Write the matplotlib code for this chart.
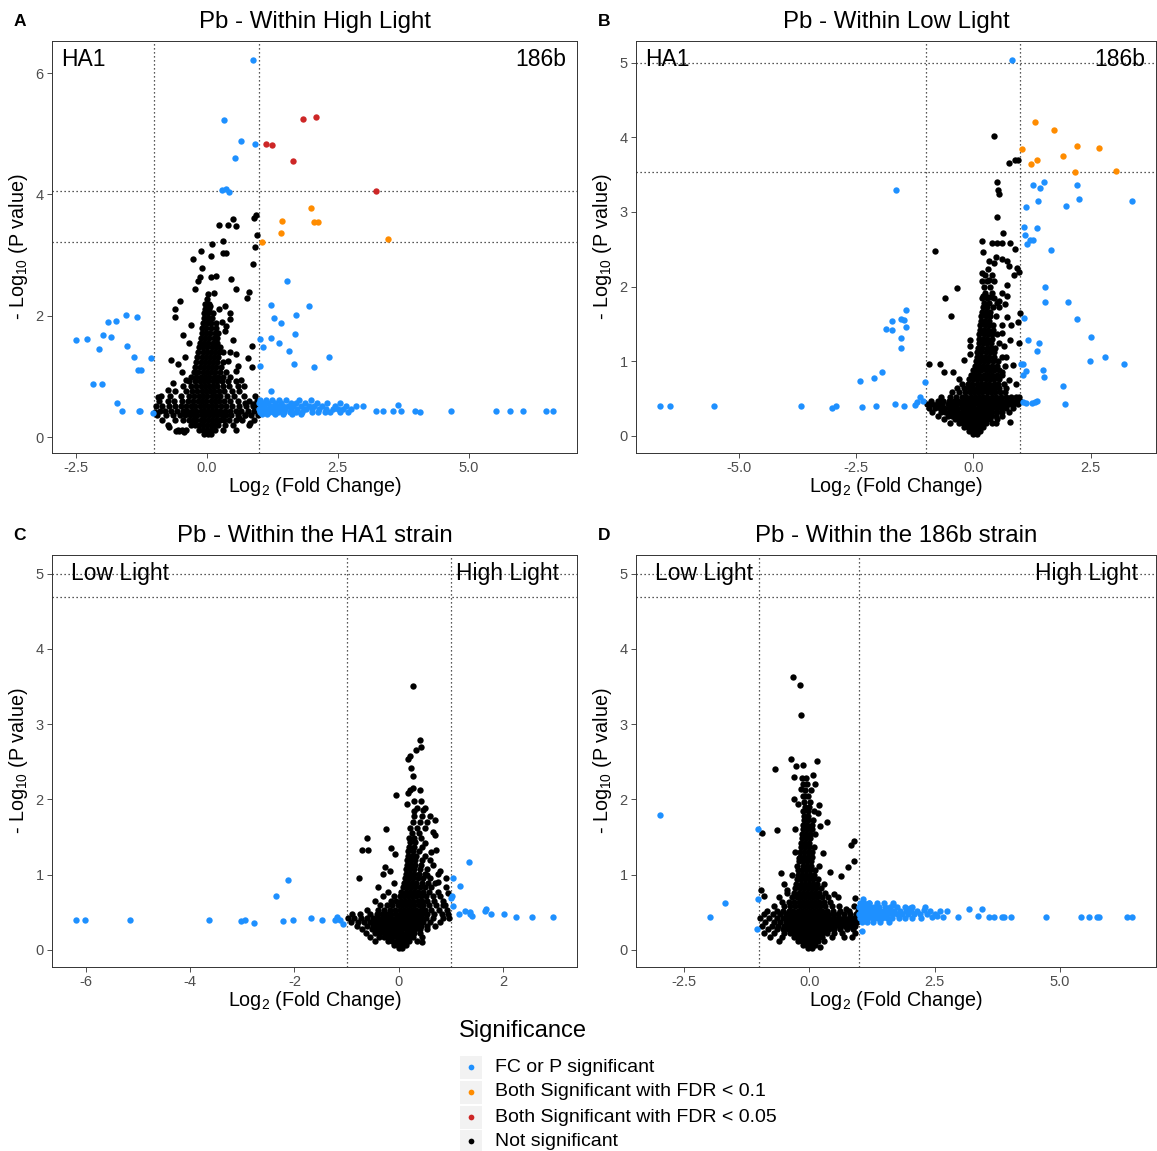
import matplotlib
matplotlib.use('Agg')
import matplotlib.pyplot as plt
from matplotlib.patches import Rectangle

plt.rcParams['font.family'] = ['Liberation Sans', 'DejaVu Sans']
plt.rcParams['mathtext.fontset'] = 'custom'
plt.rcParams['mathtext.rm'] = 'Liberation Sans'
plt.rcParams['mathtext.it'] = 'Liberation Sans:italic'
plt.rcParams['mathtext.bf'] = 'Liberation Sans:bold'

# ---------------------------------------------------------------- data
CATEGORIES = ['FC or P significant', 'Both Significant with FDR < 0.1',
              'Both Significant with FDR < 0.05', 'Not significant']
COLORS = ['#1E90FF', '#FF8C00', '#CD2626', '#000000']

TITLES = ['Pb - Within High Light', 'Pb - Within Low Light',
          'Pb - Within the HA1 strain', 'Pb - Within the 186b strain']
LETTERS = ['A', 'B', 'C', 'D']
CORNER_LABELS = [('HA1', '186b'), ('HA1', '186b'),
                 ('Low Light', 'High Light'), ('Low Light', 'High Light')]
XTICKS = [[-2.5, 0.0, 2.5, 5.0], [-5.0, -2.5, 0.0, 2.5],
          [-6, -4, -2, 0, 2], [-2.5, 0.0, 2.5, 5.0]]
XTICKLABELS = [['-2.5', '0.0', '2.5', '5.0'], ['-5.0', '-2.5', '0.0', '2.5'],
               ['-6', '-4', '-2', '0', '2'], ['-2.5', '0.0', '2.5', '5.0']]
YTICKS = [[0, 2, 4, 6], [0, 1, 2, 3, 4, 5], [0, 1, 2, 3, 4, 5], [0, 1, 2, 3, 4, 5]]
VLINES = [-1.0, 1.0]
A_HLINES = [4.05, 3.21]
B_HLINES = [5.0, 3.53]
C_HLINES = [5.0, 4.69]
D_HLINES = [5.0, 4.69]

# ---------------- Panel A
A_RED = [(1.13, 4.83), (1.24, 4.81), (1.83, 5.24), (2.09, 5.27), (1.65, 4.55), (3.23, 4.05)]
A_ORANGE = [(1.98, 3.77), (1.44, 3.56), (2.04, 3.55), (2.12, 3.55), (1.42, 3.36),
            (1.06, 3.21), (3.45, 3.27)]
A_BLUE = [(0.89, 6.22), (0.335, 5.22), (0.66, 4.88), (0.915, 4.83), (0.53, 4.60),
          (0.28, 4.08), (0.37, 4.09), (0.42, 4.04),
          (1.53, 2.57), (1.23, 2.18), (1.95, 2.17), (1.28, 1.97), (1.70, 2.01), (1.42, 1.89),
          (1.69, 1.70), (1.02, 1.62), (1.23, 1.64), (1.37, 1.55), (1.07, 1.49), (1.57, 1.42),
          (2.34, 1.33), (1.66, 1.20), (2.04, 1.16), (1.01, 1.18), (1.23, 0.77),
          (-2.50, 1.61), (-2.29, 1.62), (-2.06, 1.45), (-1.98, 1.69), (-1.88, 1.90),
          (-1.83, 1.65), (-1.73, 1.91), (-1.55, 2.02), (-1.33, 1.98), (-1.53, 1.51),
          (-1.39, 1.33), (-1.31, 1.11), (-1.26, 1.11), (-1.07, 1.30), (-2.17, 0.87),
          (-2.00, 0.87), (-1.72, 0.56), (-1.62, 0.44), (-1.30, 0.43), (-1.28, 0.43), (-1.03, 0.40),
          (2.84, 0.52), (2.98, 0.52), (3.23, 0.44), (3.37, 0.44), (3.56, 0.43), (3.65, 0.54),
          (3.70, 0.44), (3.98, 0.44), (4.07, 0.42), (4.66, 0.43), (5.51, 0.43), (5.78, 0.43),
          (6.04, 0.43), (6.48, 0.43), (6.61, 0.43)]
A_BLUE_ROWS = [
    (0.62, [1.02, 1.12, 1.25, 1.38, 1.52, 1.75, 1.98]),
    (0.57, [1.0, 1.08, 1.17, 1.3, 1.42, 1.6, 1.7, 1.88, 2.1, 2.3, 2.55]),
    (0.52, [1.03, 1.1, 1.2, 1.28, 1.36, 1.45, 1.55, 1.65, 1.8, 1.95, 2.05, 2.2, 2.45, 2.65]),
    (0.47, [1.0, 1.06, 1.14, 1.22, 1.32, 1.4, 1.5, 1.6, 1.72, 1.85, 1.9, 2.0, 2.15, 2.28, 2.4, 2.5, 2.6, 2.75]),
    (0.42, [1.02, 1.1, 1.18, 1.26, 1.35, 1.48, 1.58, 1.7, 1.82, 2.0, 2.12, 2.25, 2.35, 2.55, 2.7]),
    (0.38, [1.05, 1.15, 1.3, 1.45, 1.62, 1.8]),
]
A_BLACK = [(0.94, 3.67), (0.90, 3.62), (0.50, 3.59), (0.24, 3.49), (0.41, 3.49), (0.55, 3.48),
           (0.96, 3.33), (0.30, 3.24), (0.10, 3.18), (0.91, 3.13), (0.31, 3.03), (0.37, 3.03),
           (-0.12, 3.07), (0.08, 2.98), (-0.27, 2.94), (0.89, 2.85), (-0.10, 2.79), (-0.14, 2.64),
           (0.08, 2.64), (0.17, 2.65), (0.46, 2.61), (-0.17, 2.58), (0.55, 2.44), (0.80, 2.40),
           (0.77, 2.29), (-0.23, 2.44), (-0.52, 2.24), (0.14, 2.38), (-0.60, 2.11), (-0.61, 1.99),
           (0.34, 2.16), (0.23, 2.11), (0.06, 2.16), (0.37, 1.83), (-0.46, 1.69), (-0.42, 1.33),
           (-0.68, 1.27), (0.30, 1.41), (0.44, 1.40), (0.55, 1.37), (0.86, 1.50), (0.86, 1.16),
           (0.79, 1.31), (0.60, 1.18), (-0.47, 1.08), (-0.74, 0.78), (-0.72, 0.17), (-0.59, 0.10),
           (-0.53, 0.10), (-0.43, 0.09), (-0.93, 0.67), (-0.98, 0.41), (0.73, 0.56), (0.88, 0.55),
           (0.82, 0.23), (0.62, 0.32), (0.72, 0.36), (0.45, 1.95), (0.35, 1.75), (0.50, 1.60),
           (0.28, 1.90), (0.40, 1.25), (0.55, 1.10), (0.65, 0.95), (0.70, 0.85), (0.45, 2.05),
           (-0.30, 1.85), (-0.35, 1.55), (-0.55, 1.20), (-0.40, 0.95), (-0.65, 0.90)]
A_BLACK_ROWS = [
    (0.05, [-0.05, 0.02, 0.08]),
    (0.12, [-0.55, -0.47, -0.40, -0.15, -0.08, 0.0, 0.08, 0.15, 0.30, 0.55]),
    (0.20, [-0.75, -0.30, -0.22, -0.15, -0.08, 0.0, 0.07, 0.14, 0.22, 0.35, 0.5, 0.8]),
    (0.28, [-0.85, -0.6, -0.45, -0.35, -0.27, -0.2, -0.12, -0.05, 0.02, 0.1, 0.17, 0.25, 0.33, 0.42, 0.55, 0.68, 0.9]),
    (0.36, [-0.95, -0.78, -0.65, -0.52, -0.42, -0.33, -0.25, -0.18, -0.1, -0.03, 0.05, 0.12, 0.2, 0.28, 0.37, 0.47, 0.6, 0.72, 0.85, 0.97]),
    (0.44, [-0.9, -0.8, -0.68, -0.57, -0.46, -0.37, -0.28, -0.2, -0.12, -0.05, 0.03, 0.1, 0.18, 0.26, 0.35, 0.44, 0.55, 0.66, 0.78, 0.9]),
    (0.52, [-0.97, -0.85, -0.72, -0.6, -0.5, -0.4, -0.3, -0.22, -0.14, -0.06, 0.02, 0.1, 0.18, 0.27, 0.37, 0.48, 0.62, 0.75, 0.88, 0.98]),
    (0.60, [-0.92, -0.75, -0.62, -0.48, -0.36, -0.26, -0.17, -0.09, -0.01, 0.07, 0.15, 0.24, 0.33, 0.45, 0.6, 0.8, 0.95]),
    (0.68, [-0.88, -0.7, -0.5, -0.35, -0.24, -0.15, -0.07, 0.01, 0.09, 0.17, 0.26, 0.38, 0.52, 0.7, 0.92]),
    (0.76, [-0.6, -0.4, -0.28, -0.18, -0.1, -0.02, 0.06, 0.14, 0.23, 0.33, 0.48, 0.62]),
    (0.84, [-0.45, -0.3, -0.2, -0.12, -0.04, 0.04, 0.12, 0.2, 0.3, 0.42, 0.6]),
    (0.92, [-0.35, -0.22, -0.13, -0.05, 0.03, 0.11, 0.19, 0.28, 0.4, 0.55]),
    (1.00, [-0.3, -0.2, -0.11, -0.03, 0.05, 0.13, 0.21, 0.31, 0.45]),
    (1.08, [-0.25, -0.16, -0.08, 0.0, 0.08, 0.16, 0.25, 0.36]),
    (1.16, [-0.22, -0.14, -0.06, 0.02, 0.1, 0.18, 0.27]),
    (1.24, [-0.2, -0.12, -0.04, 0.04, 0.12, 0.2, 0.3]),
    (1.32, [-0.18, -0.1, -0.02, 0.06, 0.14, 0.22]),
    (1.40, [-0.16, -0.08, 0.0, 0.08, 0.16, 0.24]),
    (1.48, [-0.15, -0.07, 0.01, 0.09, 0.17, 0.25]),
    (1.56, [-0.13, -0.05, 0.03, 0.11, 0.19]),
    (1.64, [-0.12, -0.04, 0.04, 0.13, 0.2]),
    (1.72, [-0.1, -0.02, 0.06, 0.15, 0.22]),
    (1.80, [-0.09, -0.01, 0.07, 0.17]),
    (1.88, [-0.08, 0.0, 0.08, 0.18]),
    (1.96, [-0.06, 0.02, 0.1]),
    (2.04, [-0.05, 0.03, 0.11]),
    (2.12, [-0.04, 0.04]),
    (2.20, [-0.03, 0.05]),
    (2.28, [0.0]),
    (2.36, [0.02]),
]

# ---------------- Panel B
B_RED = []
B_ORANGE = [(1.32, 4.21), (1.71, 4.10), (1.03, 3.84), (2.22, 3.89), (2.68, 3.86), (1.91, 3.75),
            (1.36, 3.69), (1.23, 3.64), (2.17, 3.53), (3.05, 3.55)]
B_BLUE = [(0.82, 5.04), (1.27, 3.36), (1.50, 3.40), (1.42, 3.32), (2.22, 3.36), (1.38, 3.15),
          (2.25, 3.18), (1.13, 3.06), (1.98, 3.08), (3.39, 3.15), (1.08, 2.80), (1.10, 2.69),
          (1.35, 2.78), (1.15, 2.57), (1.21, 2.62), (1.28, 2.63), (1.65, 2.49), (1.52, 2.00),
          (1.53, 1.79), (2.01, 1.79), (1.09, 1.58), (2.22, 1.56), (2.50, 1.33), (1.16, 1.28),
          (1.40, 1.24), (1.36, 1.14), (2.80, 1.06), (2.49, 1.00), (3.22, 0.96), (1.02, 0.96),
          (1.06, 0.96), (1.12, 0.87), (1.05, 0.81), (1.48, 0.88), (1.50, 0.79), (1.92, 0.67),
          (1.95, 0.42), (1.06, 0.45), (1.12, 0.44), (1.26, 0.44), (1.32, 0.45), (1.36, 0.46),
          (-1.66, 3.29), (-1.44, 1.68), (-1.74, 1.54), (-1.54, 1.56), (-1.49, 1.55), (-1.43, 1.46),
          (-1.86, 1.43), (-1.73, 1.42), (-1.54, 1.31), (-1.54, 1.18), (-1.94, 0.85), (-2.11, 0.78),
          (-2.42, 0.73), (-1.03, 0.72), (-1.13, 0.52), (-1.21, 0.45), (-1.08, 0.46), (-1.25, 0.41),
          (-6.69, 0.40), (-6.47, 0.40), (-5.54, 0.40), (-3.68, 0.40), (-3.01, 0.37), (-2.94, 0.40),
          (-2.38, 0.39), (-2.07, 0.40), (-1.67, 0.42), (-1.48, 0.40)]
B_BLUE_ROWS = []
B_BLACK = [(0.44, 4.02), (0.75, 3.66), (0.89, 3.69), (0.95, 3.69), (0.50, 3.40), (0.52, 3.30),
           (0.54, 3.24), (0.51, 2.93), (0.63, 2.72), (0.18, 2.61), (0.39, 2.59), (0.50, 2.58),
           (0.60, 2.58), (0.79, 2.58), (0.89, 2.50), (-0.81, 2.48), (0.21, 2.46), (0.49, 2.40),
           (0.62, 2.37), (0.71, 2.34), (0.34, 2.34), (0.43, 2.31), (0.77, 2.28), (0.92, 2.25),
           (0.98, 2.19), (0.18, 2.18), (0.19, 2.08), (0.33, 2.09), (0.86, 2.15), (-0.34, 1.98),
           (0.72, 2.02), (-0.61, 1.84), (0.20, 1.87), (0.31, 1.86), (0.38, 1.86), (0.72, 1.87),
           (0.55, 1.81), (0.68, 1.77), (-0.47, 1.60), (0.72, 1.59), (0.99, 1.64), (0.95, 1.53),
           (0.80, 1.48), (0.62, 1.38), (0.98, 1.24), (0.79, 1.28), (-0.95, 0.96), (-0.71, 0.96),
           (-0.62, 0.86), (-0.44, 0.85), (-0.07, 1.28), (-0.08, 1.20), (-0.07, 1.09), (-0.20, 1.01),
           (0.79, 0.19), (0.49, 0.17), (0.65, 1.20), (0.70, 1.05), (0.85, 0.95), (0.60, 0.85),
           (0.75, 0.75), (0.90, 0.70)]
B_BLACK_ROWS = [
    (0.02, [0.0, 0.08]),
    (0.07, [-0.1, -0.02, 0.06, 0.14]),
    (0.12, [-0.2, -0.12, -0.04, 0.04, 0.12, 0.2]),
    (0.17, [-0.5, -0.3, -0.22, -0.14, -0.06, 0.02, 0.1, 0.18, 0.26, 0.4]),
    (0.22, [-0.62, -0.4, -0.3, -0.21, -0.12, -0.04, 0.04, 0.12, 0.2, 0.28, 0.36, 0.5]),
    (0.27, [-0.75, -0.55, -0.45, -0.36, -0.27, -0.18, -0.1, -0.02, 0.06, 0.14, 0.22, 0.3, 0.38, 0.48, 0.62]),
    (0.32, [-0.88, -0.7, -0.6, -0.5, -0.41, -0.32, -0.23, -0.14, -0.05, 0.04, 0.13, 0.22, 0.31, 0.4, 0.5, 0.6, 0.75]),
    (0.37, [-0.95, -0.82, -0.72, -0.62, -0.52, -0.43, -0.34, -0.25, -0.16, -0.07, 0.02, 0.11, 0.2, 0.29, 0.38, 0.48, 0.58, 0.7, 0.85]),
    (0.42, [-0.98, -0.88, -0.78, -0.66, -0.55, -0.45, -0.36, -0.27, -0.18, -0.09, 0.0, 0.09, 0.18, 0.27, 0.36, 0.45, 0.55, 0.65, 0.75, 0.85, 0.95]),
    (0.47, [-0.9, -0.76, -0.64, -0.52, -0.42, -0.32, -0.22, -0.12, -0.03, 0.06, 0.15, 0.24, 0.33, 0.42, 0.52, 0.62, 0.72, 0.82, 0.92, 1.0]),
    (0.52, [-0.7, -0.5, -0.36, -0.25, -0.15, -0.06, 0.03, 0.12, 0.21, 0.3, 0.39, 0.48, 0.58, 0.7, 0.8, 0.9, 0.98]),
    (0.58, [-0.45, -0.3, -0.18, -0.08, 0.01, 0.1, 0.19, 0.28, 0.37, 0.46, 0.56, 0.68]),
    (0.64, [-0.35, -0.2, -0.1, 0.0, 0.09, 0.18, 0.27, 0.36, 0.45, 0.55, 0.7]),
    (0.70, [-0.25, -0.12, -0.02, 0.07, 0.16, 0.25, 0.34, 0.43, 0.52, 0.65]),
    (0.76, [-0.3, -0.1, 0.0, 0.08, 0.17, 0.26, 0.35, 0.44, 0.55]),
    (0.82, [-0.05, 0.04, 0.13, 0.22, 0.31, 0.4, 0.5, 0.62]),
    (0.88, [0.0, 0.08, 0.17, 0.26, 0.35, 0.44, 0.55]),
    (0.94, [0.03, 0.12, 0.21, 0.3, 0.39, 0.5, 0.68]),
    (1.00, [0.05, 0.14, 0.23, 0.32, 0.41, 0.52]),
    (1.06, [0.07, 0.16, 0.25, 0.34, 0.43, 0.6]),
    (1.12, [0.08, 0.17, 0.26, 0.35, 0.45]),
    (1.18, [0.1, 0.19, 0.28, 0.37, 0.47]),
    (1.24, [0.11, 0.2, 0.29, 0.38, 0.55]),
    (1.30, [0.12, 0.21, 0.3, 0.39]),
    (1.36, [0.13, 0.22, 0.31, 0.4, 0.5]),
    (1.42, [0.14, 0.23, 0.32, 0.41]),
    (1.48, [0.15, 0.24, 0.33, 0.42, 0.6]),
    (1.54, [0.16, 0.25, 0.34]),
    (1.60, [0.17, 0.26, 0.35, 0.48]),
    (1.66, [0.18, 0.27, 0.36]),
    (1.72, [0.2, 0.3, 0.42, 0.55]),
    (1.78, [0.22, 0.34, 0.5]),
    (1.84, [0.19, 0.3, 0.45]),
    (1.92, [0.25, 0.4, 0.6]),
    (2.00, [0.22, 0.35]),
    (2.08, [0.28, 0.45]),
    (2.16, [0.25, 0.4]),
    (2.24, [0.32]),
]

# ---------------- Panel C
C_RED = []
C_ORANGE = []
C_BLUE = [(-6.19, 0.40), (-6.02, 0.40), (-5.15, 0.40), (-3.64, 0.40), (-3.03, 0.38), (-2.94, 0.40),
          (-2.78, 0.36), (-2.21, 0.38), (-2.03, 0.40), (-1.68, 0.42), (-1.48, 0.40), (-1.23, 0.40),
          (-1.18, 0.43), (-1.07, 0.34), (-1.12, 0.40), (-2.36, 0.72), (-2.12, 0.93),
          (1.35, 1.17), (1.04, 0.95), (1.18, 0.85), (1.02, 0.71), (1.01, 0.69), (1.04, 0.58),
          (1.15, 0.48), (1.27, 0.52), (1.37, 0.50), (1.36, 0.47), (1.41, 0.45), (1.66, 0.52),
          (1.68, 0.54), (1.76, 0.47), (2.01, 0.47), (2.24, 0.44), (2.55, 0.43), (2.96, 0.44)]
C_BLUE_ROWS = []
C_BLACK = [(0.28, 3.51), (0.41, 2.79), (0.43, 2.70), (0.34, 2.66), (0.17, 2.54), (0.21, 2.57),
           (0.23, 2.42), (0.28, 2.31), (0.27, 2.15), (0.22, 2.13), (0.17, 2.08), (0.41, 2.12),
           (-0.06, 2.06), (0.16, 1.94), (0.30, 1.85), (0.47, 1.86), (0.70, 1.72), (-0.25, 1.61),
           (0.65, 1.56), (0.70, 1.52), (-0.60, 1.49), (-0.71, 1.33), (-0.58, 1.32), (0.71, 1.33),
           (0.62, 1.30), (-0.14, 1.35), (-0.07, 1.27), (-0.26, 1.10), (-0.17, 1.05), (-0.77, 0.96),
           (0.45, 0.10), (0.80, 1.05), (0.90, 0.95), (0.95, 0.75), (0.85, 0.60), (0.75, 0.90),
           (0.55, 1.00), (0.60, 1.20), (0.50, 1.42), (0.55, 1.70)]
C_BLACK_ROWS = [
    (0.02, [0.0, 0.07]),
    (0.07, [-0.1, -0.02, 0.06, 0.14]),
    (0.12, [-0.45, -0.2, -0.12, -0.04, 0.04, 0.12, 0.2, 0.35]),
    (0.17, [-0.55, -0.38, -0.28, -0.2, -0.12, -0.04, 0.04, 0.12, 0.2, 0.28, 0.45]),
    (0.22, [-0.62, -0.45, -0.36, -0.27, -0.19, -0.11, -0.03, 0.05, 0.13, 0.21, 0.29, 0.4]),
    (0.27, [-0.7, -0.52, -0.42, -0.33, -0.25, -0.17, -0.09, -0.01, 0.07, 0.15, 0.23, 0.31, 0.4, 0.55]),
    (0.32, [-0.8, -0.6, -0.5, -0.4, -0.31, -0.23, -0.15, -0.07, 0.01, 0.09, 0.17, 0.25, 0.33, 0.42, 0.55, 0.7]),
    (0.37, [-0.92, -0.78, -0.66, -0.55, -0.45, -0.36, -0.27, -0.19, -0.11, -0.03, 0.05, 0.13, 0.21, 0.29, 0.37, 0.46, 0.6, 0.8]),
    (0.42, [-0.98, -0.86, -0.72, -0.6, -0.5, -0.4, -0.3, -0.22, -0.14, -0.06, 0.02, 0.1, 0.18, 0.26, 0.34, 0.42, 0.52, 0.65, 0.85, 0.97]),
    (0.47, [-0.9, -0.75, -0.55, -0.42, -0.32, -0.23, -0.14, -0.05, 0.04, 0.12, 0.2, 0.28, 0.36, 0.44, 0.54, 0.68, 0.82, 0.95]),
    (0.53, [-0.6, -0.4, -0.28, -0.17, -0.07, 0.02, 0.1, 0.18, 0.26, 0.34, 0.42, 0.5, 0.62, 0.78, 0.92]),
    (0.59, [-0.35, -0.22, -0.12, -0.02, 0.06, 0.14, 0.22, 0.3, 0.38, 0.47, 0.58, 0.72, 0.88]),
    (0.65, [-0.45, -0.15, -0.05, 0.04, 0.12, 0.2, 0.28, 0.36, 0.45, 0.55, 0.68, 0.85]),
    (0.71, [-0.3, -0.1, 0.02, 0.1, 0.18, 0.26, 0.34, 0.42, 0.52, 0.65, 0.8]),
    (0.77, [-0.2, 0.05, 0.13, 0.21, 0.29, 0.37, 0.46, 0.58, 0.75]),
    (0.83, [-0.4, 0.08, 0.16, 0.24, 0.32, 0.4, 0.5, 0.62, 0.9]),
    (0.89, [-0.1, 0.1, 0.18, 0.26, 0.34, 0.44, 0.56, 0.7]),
    (0.95, [0.12, 0.2, 0.28, 0.36, 0.46, 0.6]),
    (1.01, [-0.3, 0.13, 0.21, 0.29, 0.38, 0.5, 0.75]),
    (1.07, [0.14, 0.22, 0.3, 0.4, 0.55]),
    (1.13, [0.15, 0.23, 0.31, 0.42, 0.65]),
    (1.19, [0.16, 0.24, 0.32, 0.45]),
    (1.25, [0.17, 0.25, 0.34, 0.5]),
    (1.31, [0.18, 0.27, 0.38]),
    (1.37, [0.2, 0.3, 0.45]),
    (1.43, [0.22, 0.32]),
    (1.49, [0.2, 0.3, 0.42]),
    (1.55, [0.25, 0.38]),
    (1.62, [0.22, 0.35, 0.5]),
    (1.70, [0.28, 0.4]),
    (1.78, [0.3, 0.45, 0.6]),
    (1.88, [0.35, 0.5]),
    (1.98, [0.3, 0.42]),
]

# ---------------- Panel D
D_RED = []
D_ORANGE = []
D_BLUE = [(-2.99, 1.79), (-1.03, 1.60), (-1.68, 0.62), (-1.99, 0.43), (-1.03, 0.67), (-1.05, 0.27),
          (3.18, 0.54), (3.45, 0.54), (3.36, 0.45), (3.58, 0.43), (3.69, 0.44), (3.85, 0.43),
          (3.88, 0.43), (4.03, 0.43), (4.73, 0.43), (5.43, 0.43), (5.58, 0.43), (5.74, 0.43),
          (5.78, 0.43), (6.35, 0.43), (6.45, 0.43), (1.08, 0.68), (1.19, 0.62), (1.67, 0.59),
          (2.01, 0.55), (2.28, 0.53), (2.75, 0.52), (2.44, 0.44), (2.54, 0.45), (2.67, 0.43),
          (2.96, 0.43), (1.06, 0.25)]
D_BLUE_ROWS = [
    (0.62, [1.02, 1.1, 1.2, 1.35, 1.5, 1.68]),
    (0.57, [1.0, 1.06, 1.14, 1.22, 1.3, 1.4, 1.52, 1.62, 1.75, 1.9, 2.05, 2.3]),
    (0.52, [1.03, 1.1, 1.18, 1.26, 1.34, 1.42, 1.5, 1.6, 1.7, 1.8, 1.92, 2.02, 2.15, 2.4, 2.6]),
    (0.47, [1.0, 1.07, 1.15, 1.23, 1.31, 1.39, 1.47, 1.56, 1.65, 1.75, 1.85, 1.96, 2.08, 2.2, 2.35, 2.5]),
    (0.42, [1.02, 1.1, 1.18, 1.27, 1.36, 1.45, 1.55, 1.66, 1.78, 1.9, 2.05, 2.22]),
    (0.37, [1.05, 1.15, 1.28, 1.42, 1.6]),
]
D_BLACK = [(-0.32, 3.63), (-0.19, 3.52), (-0.17, 3.12), (-0.36, 2.54), (0.15, 2.51), (-0.68, 2.41),
           (-0.27, 2.44), (-0.13, 2.46), (-0.31, 2.30), (0.07, 2.33), (0.12, 2.20), (-0.17, 2.14),
           (-0.09, 2.05), (-0.31, 2.00), (-0.23, 1.94), (0.20, 1.93), (0.17, 1.82), (0.36, 1.70),
           (-0.64, 1.59), (-0.95, 1.55), (-0.28, 1.60), (0.05, 1.60), (0.21, 1.65), (0.90, 1.45),
           (0.84, 1.39), (-0.29, 1.30), (-0.20, 1.22), (0.27, 1.29), (0.89, 1.18), (0.78, 1.10),
           (0.41, 1.04), (0.64, 0.98), (-0.56, 1.02), (-0.45, 0.80), (-0.96, 0.80), (-0.90, 0.72),
           (0.49, 0.74), (0.58, 0.70), (0.74, 0.54), (0.92, 0.69), (0.21, 0.04)]
D_BLACK_ROWS = [
    (0.02, [-0.02, 0.05]),
    (0.07, [-0.12, -0.04, 0.04, 0.12]),
    (0.12, [-0.6, -0.22, -0.14, -0.06, 0.02, 0.1, 0.18, 0.3]),
    (0.17, [-0.78, -0.55, -0.3, -0.22, -0.14, -0.06, 0.02, 0.1, 0.18, 0.26, 0.45, 0.7, 0.85]),
    (0.22, [-0.9, -0.7, -0.5, -0.38, -0.3, -0.22, -0.14, -0.06, 0.02, 0.1, 0.18, 0.26, 0.35, 0.5, 0.65, 0.92]),
    (0.27, [-0.82, -0.65, -0.52, -0.42, -0.33, -0.25, -0.17, -0.09, -0.01, 0.07, 0.15, 0.23, 0.31, 0.4, 0.5, 0.62, 0.75, 0.88]),
    (0.32, [-0.95, -0.75, -0.62, -0.5, -0.4, -0.31, -0.23, -0.15, -0.07, 0.01, 0.09, 0.17, 0.25, 0.33, 0.42, 0.52, 0.62, 0.72, 0.82, 0.92]),
    (0.37, [-0.88, -0.7, -0.58, -0.47, -0.37, -0.28, -0.2, -0.12, -0.04, 0.04, 0.12, 0.2, 0.28, 0.36, 0.45, 0.55, 0.65, 0.75, 0.85, 0.95]),
    (0.42, [-0.98, -0.8, -0.65, -0.53, -0.43, -0.34, -0.25, -0.17, -0.09, -0.01, 0.07, 0.15, 0.23, 0.31, 0.4, 0.5, 0.6, 0.7, 0.8, 0.9, 0.98]),
    (0.47, [-0.9, -0.72, -0.58, -0.47, -0.37, -0.28, -0.2, -0.12, -0.04, 0.04, 0.12, 0.2, 0.28, 0.37, 0.47, 0.58, 0.7, 0.82, 0.94]),
    (0.52, [-0.85, -0.65, -0.52, -0.41, -0.32, -0.23, -0.15, -0.07, 0.01, 0.09, 0.17, 0.26, 0.36, 0.48, 0.62, 0.8, 0.97]),
    (0.58, [-0.7, -0.5, -0.38, -0.28, -0.19, -0.11, -0.03, 0.05, 0.13, 0.22, 0.32, 0.45, 0.6, 0.9]),
    (0.64, [-0.55, -0.4, -0.3, -0.21, -0.13, -0.05, 0.03, 0.11, 0.2, 0.3, 0.42]),
    (0.70, [-0.6, -0.35, -0.25, -0.17, -0.09, -0.01, 0.07, 0.15, 0.25, 0.38]),
    (0.76, [-0.45, -0.3, -0.21, -0.13, -0.05, 0.03, 0.11, 0.2, 0.32]),
    (0.82, [-0.28, -0.19, -0.11, -0.03, 0.05, 0.13, 0.24]),
    (0.88, [-0.5, -0.26, -0.17, -0.09, -0.01, 0.07, 0.16, 0.3]),
    (0.94, [-0.25, -0.16, -0.08, 0.0, 0.08, 0.18]),
    (1.00, [-0.35, -0.23, -0.15, -0.07, 0.01, 0.1]),
    (1.06, [-0.22, -0.14, -0.06, 0.02, 0.12]),
    (1.12, [-0.25, -0.13, -0.05, 0.03, 0.2]),
    (1.18, [-0.2, -0.12, -0.04, 0.04]),
    (1.24, [-0.19, -0.11, -0.03, 0.05]),
    (1.30, [-0.18, -0.1, -0.02, 0.06]),
    (1.36, [-0.17, -0.09, -0.01, 0.1]),
    (1.42, [-0.16, -0.08, 0.0]),
    (1.48, [-0.15, -0.07, 0.01]),
    (1.54, [-0.14, -0.06, 0.02, 0.12]),
    (1.60, [-0.13, -0.05, 0.03]),
    (1.66, [-0.12, -0.04, 0.05]),
    (1.72, [-0.11, -0.03, 0.08]),
    (1.78, [-0.1, -0.02]),
    (1.84, [-0.12, -0.02, 0.1]),
    (1.90, [-0.08, 0.0]),
    (1.96, [-0.1, 0.02]),
    (2.04, [-0.12, -0.02]),
    (2.12, [-0.08, 0.03]),
    (2.20, [-0.13, -0.05]),
    (2.28, [-0.15, -0.06]),
]

# ---------------------------------------------------------------- helpers
W, H = 1157, 1151
DPI = 100


def fx(px):
    return px / W


def fy(py):
    return 1 - py / H


def gather(points, rows):
    xs = [p[0] for p in points]
    ys = [p[1] for p in points]
    for y, xl in rows:
        for x in xl:
            xs.append(x)
            ys.append(y)
    return xs, ys


def expand(lo, hi, frac=0.05):
    d = hi - lo
    return lo - frac * d, hi + frac * d


PANELS = [
    dict(box=(52, 41, 577, 453), black=(A_BLACK, A_BLACK_ROWS), blue=(A_BLUE, A_BLUE_ROWS),
         orange=A_ORANGE, red=A_RED, hlines=A_HLINES),
    dict(box=(636, 41, 1156, 453), black=(B_BLACK, B_BLACK_ROWS), blue=(B_BLUE, B_BLUE_ROWS),
         orange=B_ORANGE, red=B_RED, hlines=B_HLINES),
    dict(box=(52, 555, 577, 967), black=(C_BLACK, C_BLACK_ROWS), blue=(C_BLUE, C_BLUE_ROWS),
         orange=C_ORANGE, red=C_RED, hlines=C_HLINES),
    dict(box=(636, 555, 1156, 967), black=(D_BLACK, D_BLACK_ROWS), blue=(D_BLUE, D_BLUE_ROWS),
         orange=D_ORANGE, red=D_RED, hlines=D_HLINES),
]

MS = 21
TICK_GREY = '#4D4D4D'
FRAME = '#333333'

fig = plt.figure(figsize=(W / DPI, H / DPI), dpi=DPI)

for i, p in enumerate(PANELS):
    x0, y0, x1, y1 = p['box']
    ax = fig.add_axes([fx(x0), fy(y1), (x1 - x0) / W, (y1 - y0) / H])
    bx, by = gather(*p['black'])
    ux, uy = gather(*p['blue'])
    ox = [q[0] for q in p['orange']]
    oy = [q[1] for q in p['orange']]
    rx = [q[0] for q in p['red']]
    ry = [q[1] for q in p['red']]

    ax.scatter(bx, by, s=MS, c=COLORS[3], linewidths=0, zorder=3)
    ax.scatter(ux, uy, s=MS, c=COLORS[0], linewidths=0, zorder=4)
    if ox:
        ax.scatter(ox, oy, s=MS, c=COLORS[1], linewidths=0, zorder=5)
    if rx:
        ax.scatter(rx, ry, s=MS, c=COLORS[2], linewidths=0, zorder=5)

    for v in VLINES:
        ax.axvline(v, color='#222222', lw=0.9, linestyle=(0, (1, 2.2)), zorder=2)
    for h in p['hlines']:
        ax.axhline(h, color='#222222', lw=0.9, linestyle=(0, (1, 2.2)), zorder=2)

    allx = bx + ux + ox + rx
    ally = by + uy + oy + ry + list(p['hlines'])
    ax.set_xlim(*expand(min(allx), max(allx)))
    ax.set_ylim(*expand(min(ally), max(ally)))

    ax.set_xticks(XTICKS[i])
    ax.set_xticklabels(XTICKLABELS[i])
    ax.set_yticks(YTICKS[i])
    ax.set_yticklabels([str(t) for t in YTICKS[i]])
    ax.tick_params(axis='both', direction='out', length=3.5, width=0.6, color=FRAME,
                   labelcolor=TICK_GREY, labelsize=10.5, pad=2.5)
    for sp in ax.spines.values():
        sp.set_color(FRAME)
        sp.set_linewidth(0.7)
    ax.set_facecolor('white')

    left_lab, right_lab = CORNER_LABELS[i]
    inset = 0.017 if i < 2 else 0.036
    ax.text(inset, 0.956, left_lab, transform=ax.transAxes, ha='left', va='center',
            fontsize=16.5, color='black', zorder=6)
    ax.text(1 - (0.021 if i < 2 else 0.035), 0.956, right_lab, transform=ax.transAxes,
            ha='right', va='center', fontsize=16.5, color='black', zorder=6)

    cx = (x0 + x1) / 2
    fig.text(fx(cx), fy(y0 - 19), TITLES[i], ha='center', va='center', fontsize=17.3)
    fig.text(fx(cx), fy(y1 + 34), r'Log$_{2}$ (Fold Change)', ha='center', va='center',
             fontsize=14.2)
    fig.text(fx(x0 - 33), fy((y0 + y1) / 2), r'- Log$_{10}$ (P value)', ha='center',
             va='center', rotation=90, fontsize=14.2)
    fig.text(fx(x0 - 32), fy(y0 - 19), LETTERS[i], ha='center', va='center',
             fontsize=12.5, fontweight='bold')

# ---------------------------------------------------------------- legend
fig.text(fx(459), fy(1031), 'Significance', ha='left', va='center', fontsize=17)
row_y = [1067, 1092, 1117, 1141]
lax = fig.add_axes([0, 0, 1, 1], facecolor='none')
lax.set_xlim(0, W)
lax.set_ylim(H, 0)
lax.axis('off')
for k, (lab, col) in enumerate(zip(CATEGORIES, COLORS)):
    yy = row_y[k]
    lax.add_patch(Rectangle((460, yy - 11.5), 22, 23, facecolor='#F2F2F2', edgecolor='none'))
    lax.scatter([471], [yy], s=17, c=col, linewidths=0)
    lax.text(495, yy, lab, ha='left', va='center', fontsize=14)

fig.savefig('out.png', dpi=DPI)
